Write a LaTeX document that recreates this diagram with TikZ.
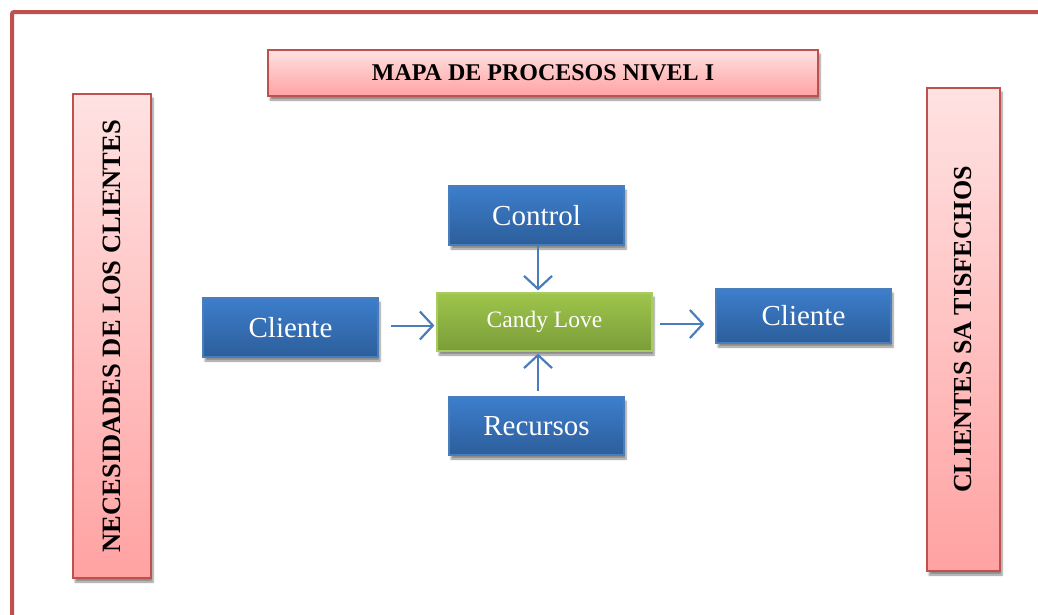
\documentclass[tikz,border=0pt]{standalone}
\usepackage{fontspec}
\setmainfont{Liberation Serif}
\usetikzlibrary{arrows.meta,shadows.blur}
\definecolor{frameRed}{HTML}{C0504D}
\definecolor{pinkTop}{HTML}{FFE2E2}
\definecolor{pinkBot}{HTML}{FFA2A2}
\definecolor{blueTop}{HTML}{3D7ECC}
\definecolor{blueBot}{HTML}{2C5E9B}
\definecolor{blueEdge}{HTML}{4A7EBB}
\definecolor{greenTop}{HTML}{9EC54C}
\definecolor{greenBot}{HTML}{7B9D39}
\definecolor{greenEdge}{HTML}{A9CC62}
\definecolor{arrowBlue}{HTML}{4A7EBB}
\tikzset{
  boxshadow/.style={blur shadow={shadow xshift=2pt, shadow yshift=-4pt, shadow blur steps=6, shadow opacity=45}},
  pinkbox/.style={draw=frameRed, line width=1.8pt, top color=pinkTop, bottom color=pinkBot,
    boxshadow, inner sep=0pt, font=\bfseries, text=black},
  bluebox/.style={draw=blueEdge, line width=1.2pt, top color=blueTop, bottom color=blueBot,
    boxshadow, inner sep=0pt, minimum width=175pt, text=white, font=\fontsize{29}{32}\selectfont},
  greenbox/.style={draw=greenEdge, line width=1.2pt, top color=greenTop, bottom color=greenBot,
    boxshadow, inner sep=0pt, text=white, font=\fontsize{23.5}{26}\selectfont},
  flow/.style={draw=arrowBlue, line width=2pt, -{Straight Barb[length=13pt,width=28pt,line width=2.2pt]}}
}
\begin{document}
\begin{tikzpicture}[x=1pt,y=-1pt]
  \useasboundingbox (0,0) rectangle (1038,614);
  % outer page frame
  \begin{scope}
    \clip (0,0) rectangle (1038,614);
    \draw[frameRed, line width=4pt, rounded corners=2pt] (12,640) -- (12,12) -- (1060,12);
  \end{scope}

  % heading and side banners
  \node[pinkbox, minimum width=550pt, minimum height=46pt, font=\bfseries\fontsize{24}{26}\selectfont]
    (title) at (543,73) {MAPA DE PROCESOS NIVEL I};
  \node[pinkbox, minimum width=78pt, minimum height=484pt, font=\bfseries\fontsize{26.5}{28}\selectfont]
    (needs) at (112,336) {\rotatebox{90}{NECESIDADES DE LOS CLIENTES}};
  \node[pinkbox, minimum width=73pt, minimum height=483pt, font=\bfseries\fontsize{26}{28}\selectfont]
    (happy) at (963.5,329.5) {\rotatebox{90}{CLIENTES SA TISFECHOS}};

  % process boxes
  \node[bluebox, minimum height=59pt] (control) at (536.5,215.5) {Control};
  \node[bluebox, minimum height=59pt] (clientIn) at (290.5,327.5) {Cliente};
  \node[greenbox, minimum width=215pt, minimum height=58pt] (candy) at (544.5,322) {Candy Love};
  \node[bluebox, minimum height=54pt] (clientOut) at (803.5,316) {Cliente};
  \node[bluebox, minimum height=58pt] (resources) at (536.5,426) {Recursos};

  % flows
  \draw[flow, shorten <=12pt, shorten >=2pt] ([yshift=2pt]clientIn.east) -- ([yshift=2pt]clientIn.east -| candy.west);
  \draw[flow, shorten >=2pt] ([xshift=1.5pt]control.south) -- ([xshift=1.5pt]control.south |- candy.north);
  \draw[flow, shorten <=5pt, shorten >=2pt] ([xshift=1.5pt]resources.north) -- ([xshift=1.5pt]resources.north |- candy.south);
  \draw[flow, shorten <=7pt, shorten >=11pt] ([yshift=-2pt]candy.east) -- ([yshift=-2pt]candy.east -| clientOut.west);
\end{tikzpicture}
\end{document}
